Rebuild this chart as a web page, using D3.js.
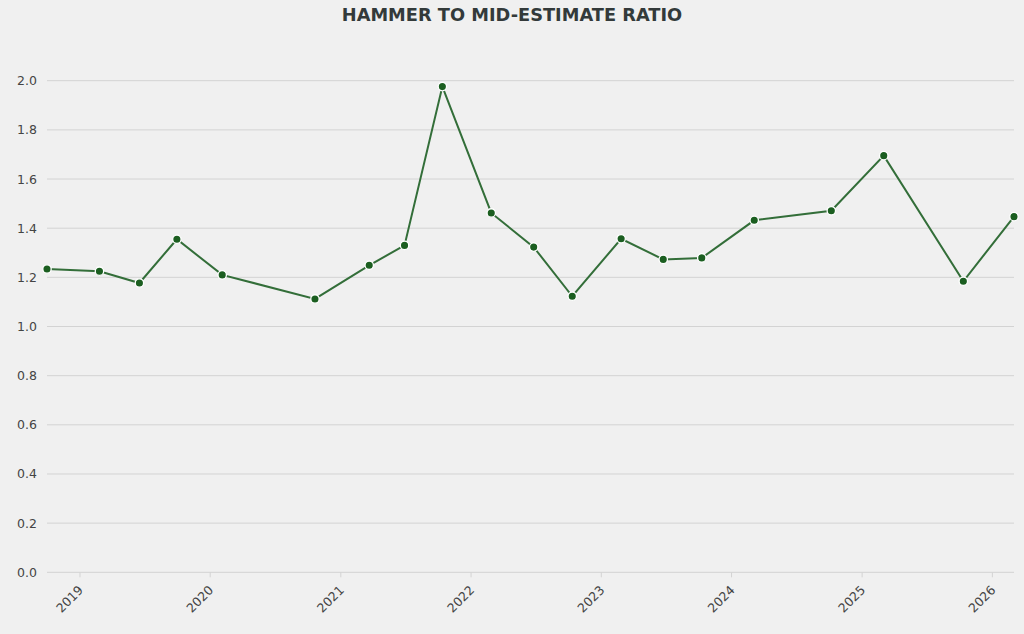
<!DOCTYPE html>
<html>
<head>
<meta charset="utf-8">
<script src="https://cdn.jsdelivr.net/npm/d3@7"></script>
<style>
  html, body { margin: 0; padding: 0; background: #f0f0f0; }
  svg { display: block; font-family: "DejaVu Sans", sans-serif; }
</style>
</head>
<body>
<svg id="chart" width="1024" height="634"></svg>
<script>
const dates = ["2018-10-02","2019-02-26","2019-06-18","2019-10-01","2020-02-05","2020-10-22",
  "2021-03-23","2021-06-30","2021-10-14","2022-02-28","2022-06-27","2022-10-13",
  "2023-02-27","2023-06-25","2023-10-11","2024-03-06","2024-10-08","2025-03-04",
  "2025-10-13","2026-03-04"];
const ratios = [1.234,1.225,1.177,1.355,1.210,1.112,1.249,1.330,1.976,1.462,1.323,1.123,
  1.357,1.273,1.279,1.432,1.471,1.695,1.184,1.447];
const yTicks = [0,0.2,0.4,0.6,0.8,1.0,1.2,1.4,1.6,1.8,2.0];
const titleText = "HAMMER TO MID-ESTIMATE RATIO";

const parse = d3.timeParse("%Y-%m-%d");
const data = dates.map((d, i) => ({ date: parse(d), value: ratios[i] }));

const W = 1024, H = 634;
const margin = { left: 47, right: 10, top: 80.7, bottom: 634 - 572.3 };
const svg = d3.select("#chart");

svg.append("rect").attr("width", W).attr("height", H).attr("fill", "#f0f0f0");

const x = d3.scaleTime()
  .domain(d3.extent(data, d => d.date))
  .range([margin.left, W - margin.right]);
const y = d3.scaleLinear()
  .domain([0, 2.0])
  .range([H - margin.bottom, margin.top]);

// Gridlines
svg.append("g")
  .selectAll("line")
  .data(yTicks)
  .join("line")
  .attr("x1", margin.left).attr("x2", W - margin.right)
  .attr("y1", d => y(d)).attr("y2", d => y(d))
  .attr("stroke", "#d3d3d3").attr("stroke-width", 1);

// Y axis labels
const yAxis = svg.append("g")
  .attr("transform", `translate(${margin.left},0)`)
  .call(d3.axisLeft(y).tickValues(yTicks).tickFormat(d3.format(".1f")).tickSize(0).tickPadding(10));
yAxis.select(".domain").remove();
yAxis.selectAll("text").attr("fill", "#444").attr("font-size", 12.5)
  .attr("font-family", "DejaVu Sans, sans-serif");

// X axis
const xAxis = svg.append("g")
  .attr("transform", `translate(0,${y(0)})`)
  .call(d3.axisBottom(x).ticks(d3.timeYear.every(1)).tickFormat(d3.timeFormat("%Y")).tickSize(5).tickPadding(4));
xAxis.select(".domain").remove();
xAxis.selectAll(".tick line").attr("stroke", "#d3d3d3");
xAxis.selectAll("text")
  .attr("fill", "#444").attr("font-size", 12.5)
  .attr("font-family", "DejaVu Sans, sans-serif")
  .attr("text-anchor", "end")
  .attr("dx", -10.4).attr("dy", 7)
  .attr("transform", "rotate(-45)");

// Line
const line = d3.line().x(d => x(d.date)).y(d => y(d.value));
svg.append("path")
  .datum(data)
  .attr("fill", "none")
  .attr("stroke", "#336e39")
  .attr("stroke-width", 2)
  .attr("d", line);

// Points
svg.append("g")
  .selectAll("circle")
  .data(data)
  .join("circle")
  .attr("cx", d => x(d.date))
  .attr("cy", d => y(d.value))
  .attr("r", 4.2)
  .attr("fill", "#1b5e20")
  .attr("stroke", "#ffffff")
  .attr("stroke-width", 1.3);

// Title
svg.append("text")
  .attr("x", W / 2).attr("y", 21)
  .attr("text-anchor", "middle")
  .attr("font-family", "DejaVu Sans, sans-serif")
  .attr("font-weight", "bold")
  .attr("font-size", 17.8)
  .attr("fill", "#333a3a")
  .text(titleText);
</script>
</body>
</html>
